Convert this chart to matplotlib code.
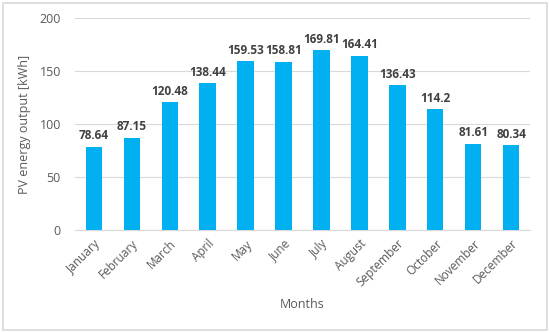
import matplotlib.pyplot as plt
from matplotlib.patches import Rectangle
import numpy as np

months = ['January', 'February', 'March', 'April', 'May', 'June', 'July',
          'August', 'September', 'October', 'November', 'December']
output = [78.64, 87.15, 120.48, 138.44, 159.53, 158.81, 169.81,
          164.41, 136.43, 114.2, 81.61, 80.34]
labels = ['78.64', '87.15', '120.48', '138.44', '159.53', '158.81', '169.81',
          '164.41', '136.43', '114.2', '81.61', '80.34']

plt.rcParams['font.family'] = ['Open Sans', 'DejaVu Sans']

fig = plt.figure(figsize=(5.5, 3.33), dpi=100)
ax = fig.add_axes([0.136, 0.309, 0.828, 0.637])

x = np.arange(len(months))
ax.bar(x, output, width=0.43, color='#00B0F0', zorder=3)
for xi, v, lab in zip(x, output, labels):
    ax.text(xi, v + 4, lab, ha='center', va='bottom', fontsize=8.5,
            fontweight='bold', color='#404040')

ax.set_xlim(-0.5, len(months) - 0.5)
ax.set_ylim(0, 200)
ax.set_yticks([0, 50, 100, 150, 200])
ax.set_xticks(x)
ax.set_xticklabels(months, rotation=45, ha='right', rotation_mode='anchor',
                   fontsize=8.5, color='#595959')
ax.tick_params(axis='y', labelsize=9, colors='#595959', length=0, pad=10)
ax.tick_params(axis='x', length=0, pad=5)
ax.grid(axis='y', color='#D9D9D9', linewidth=0.8, zorder=0)
for s in ['top', 'right', 'left']:
    ax.spines[s].set_visible(False)
ax.spines['bottom'].set_color('#D9D9D9')

ax.set_ylabel('PV energy output [kWh]', fontsize=9, color='#595959', labelpad=6)
ax.set_xlabel('Months', fontsize=9, color='#595959', labelpad=6)

fig.patches.append(Rectangle((0.006, 0.008), 0.988, 0.984, transform=fig.transFigure,
                             fill=False, edgecolor='#D9D9D9', linewidth=1.2))

fig.savefig('out.png', dpi=100)
